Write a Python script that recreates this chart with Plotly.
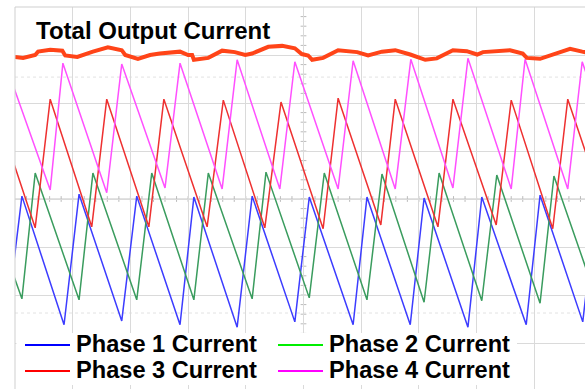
import plotly.graph_objects as go

# ------------------------------------------------------------
# Data (time and current in scope divisions)
# ------------------------------------------------------------
ph1_peak_t = [-0.88, 0.12, 1.11, 2.11, 3.10, 4.11, 5.10, 6.10, 7.09, 8.09, 9.10, 10.09]
ph1_peak_i = [4.06, 4.06, 4.10, 4.06, 4.04, 4.06, 4.04, 4.04, 4.02, 4.04, 4.08, 4.06]
ph1_valley_t = [-0.15, 0.85, 1.85, 2.86, 3.85, 4.85, 5.86, 6.85, 7.85, 8.86, 9.84]
ph1_valley_i = [1.40, 1.38, 1.46, 1.38, 1.33, 1.44, 1.38, 1.38, 1.33, 1.38, 1.44]

ph2_peak_t = [-0.65, 0.35, 1.35, 2.37, 3.35, 4.35, 5.36, 6.36, 7.35, 8.35, 9.34, 10.35]
ph2_peak_i = [4.54, 4.54, 4.54, 4.54, 4.54, 4.56, 4.54, 4.52, 4.54, 4.50, 4.48, 4.50]
ph2_valley_t = [0.12, 1.11, 2.11, 3.10, 4.11, 5.10, 6.10, 7.09, 8.09, 9.10, 10.09]
ph2_valley_i = [1.92, 1.90, 1.90, 1.90, 1.92, 1.94, 1.90, 1.85, 1.88, 1.83, 1.88]

ph3_peak_t = [-0.39, 0.61, 1.59, 2.58, 3.61, 4.61, 5.60, 6.59, 7.59, 8.60, 9.58]
ph3_peak_i = [6.08, 6.08, 6.08, 6.08, 6.06, 6.02, 6.10, 6.08, 6.08, 6.06, 6.08]
ph3_valley_t = [0.35, 1.33, 2.32, 3.33, 4.33, 5.34, 6.34, 7.33, 8.34, 9.32, 10.33]
ph3_valley_i = [3.40, 3.42, 3.42, 3.42, 3.40, 3.38, 3.46, 3.42, 3.46, 3.38, 3.40]

ph4_peak_t = [-0.17, 0.83, 1.85, 2.86, 3.85, 4.85, 5.86, 6.86, 7.85, 8.84, 9.83]
ph4_peak_i = [6.83, 6.83, 6.81, 6.83, 6.90, 6.86, 6.88, 6.91, 6.93, 6.91, 6.86]
ph4_valley_t = [0.61, 1.59, 2.60, 3.59, 4.59, 5.60, 6.59, 7.59, 8.60, 9.58, 10.59]
ph4_valley_i = [4.19, 4.13, 4.23, 4.21, 4.21, 4.21, 4.21, 4.23, 4.21, 4.21, 4.21]

total_t = [0.0, 0.14, 0.35, 0.40, 0.61, 0.82, 0.87, 1.08, 1.35, 1.61, 1.85, 1.91,
           2.13, 2.34, 2.51, 2.86, 3.00, 3.07, 3.10, 3.35, 3.59, 3.81, 3.99, 4.11,
           4.39, 4.63, 4.85, 4.97, 5.08, 5.15, 5.34, 5.60, 5.93, 6.12, 6.36, 6.59,
           6.85, 7.11, 7.31, 7.49, 7.59, 7.83, 8.01, 8.11, 8.58, 8.80, 8.87, 9.10,
           9.32, 9.62, 9.83, 9.97]
total_i = [6.96, 6.94, 7.00, 7.07, 7.11, 7.09, 6.99, 6.96, 7.07, 7.16, 7.10, 7.00,
           6.92, 7.00, 7.03, 7.07, 7.00, 7.00, 6.90, 6.94, 7.09, 7.06, 7.00, 7.03,
           7.17, 7.19, 7.14, 7.02, 6.99, 6.90, 6.94, 7.10, 7.06, 6.99, 7.07, 7.10,
           7.01, 6.90, 6.93, 7.03, 7.10, 7.08, 7.01, 7.06, 7.10, 7.03, 6.94, 6.92,
           7.01, 7.13, 7.07, 7.04]

phase_names = ["Phase 1 Current", "Phase 2 Current", "Phase 3 Current", "Phase 4 Current"]
trace_colors = ["#3c3cff", "#3a9c5e", "#ee3030", "#ff50ff"]
legend_colors = ["#0000ff", "#00ee00", "#ff0000", "#ff00ff"]
total_name = "Total Output Current"
total_color = "#ff4418"


def zigzag(pt, pi, vt, vi):
    # merge peak and valley vertices in time order
    pts = sorted(list(zip(pt, pi)) + list(zip(vt, vi)))
    return [p[0] for p in pts], [p[1] for p in pts]


phases = [
    zigzag(ph1_peak_t, ph1_peak_i, ph1_valley_t, ph1_valley_i),
    zigzag(ph2_peak_t, ph2_peak_i, ph2_valley_t, ph2_valley_i),
    zigzag(ph3_peak_t, ph3_peak_i, ph3_valley_t, ph3_valley_i),
    zigzag(ph4_peak_t, ph4_peak_i, ph4_valley_t, ph4_valley_i),
]

# ------------------------------------------------------------
# Figure
# ------------------------------------------------------------
W, H = 585, 389
L, T = 15, 7
X_MAX = (W - L) / 57.7
Y_MIN = 8 - (H - T) / 48


def px(x):
    return (x - L) / (W - L)


def py(y):
    return (H - y) / (H - T)


fig = go.Figure()

for (t, i), name, col in zip(phases, phase_names, trace_colors):
    fig.add_trace(go.Scatter(x=t, y=i, mode="lines", name=name,
                             line=dict(color=col, width=1.5), showlegend=False))

fig.add_trace(go.Scatter(x=total_t, y=total_i, mode="lines", name=total_name,
                         line=dict(color=total_color, width=4), showlegend=False))

shapes = []
# center axes with minor ticks
shapes.append(dict(type="line", xref="x", yref="y", x0=5, x1=5, y0=Y_MIN, y1=8,
                   line=dict(color="#c4c4c4", width=1), layer="below"))
shapes.append(dict(type="line", xref="x", yref="y", x0=0, x1=X_MAX, y0=4, y1=4,
                   line=dict(color="#c4c4c4", width=1), layer="below"))
for k in range(1, 40):
    yy = k * 0.2
    shapes.append(dict(type="line", xref="x", yref="y", x0=4.95, x1=5.05, y0=yy, y1=yy,
                       line=dict(color="#bbbbbb", width=1), layer="below"))
for k in range(1, 50):
    xx = k * 0.2
    shapes.append(dict(type="line", xref="x", yref="y", x0=xx, x1=xx, y0=3.94, y1=4.06,
                       line=dict(color="#bbbbbb", width=1), layer="below"))
# faint dotted rows
for yy in (6.54, 1.625):
    shapes.append(dict(type="line", xref="x", yref="y", x0=0, x1=X_MAX, y0=yy, y1=yy,
                       line=dict(color="#e2e2e2", width=1, dash="dot"), layer="below"))
# frame left / top
shapes.append(dict(type="line", xref="paper", yref="paper", x0=0, x1=0, y0=0, y1=1,
                   line=dict(color="#cfcfcf", width=1)))
shapes.append(dict(type="line", xref="paper", yref="paper", x0=0, x1=1, y0=1, y1=1,
                   line=dict(color="#cfcfcf", width=1)))
# legend box
shapes.append(dict(type="rect", xref="paper", yref="paper", x0=px(16.5), x1=px(517),
                   y0=py(385), y1=py(333), fillcolor="white", line=dict(width=0)))

annotations = [dict(xref="paper", yref="paper", x=px(34), y=py(31), xanchor="left",
                    yanchor="middle", showarrow=False, text="<b>" + total_name + "</b>",
                    font=dict(family="Liberation Sans, Arial", size=24, color="black"))]

leg_pos = [(25, 345), (278, 345), (25, 371), (278, 371)]
for (lx, ly), name, col in zip(leg_pos, phase_names, legend_colors):
    shapes.append(dict(type="line", xref="paper", yref="paper", x0=px(lx), x1=px(lx + 45),
                       y0=py(ly), y1=py(ly), line=dict(color=col, width=2)))
    annotations.append(dict(xref="paper", yref="paper", x=px(lx + 49), y=py(ly - 1),
                            xanchor="left", yanchor="middle", showarrow=False,
                            text="<b>" + name + "</b>",
                            font=dict(family="Liberation Sans, Arial", size=23.6, color="black")))

fig.update_layout(
    width=W, height=H,
    margin=dict(l=L, r=0, t=T, b=0),
    paper_bgcolor="white", plot_bgcolor="white",
    shapes=shapes, annotations=annotations,
    xaxis=dict(range=[0, X_MAX], dtick=1, tick0=0, showgrid=True, gridcolor="#dadada",
               gridwidth=1, zeroline=False, showticklabels=False, ticks=""),
    yaxis=dict(range=[Y_MIN, 8], dtick=1, tick0=0, showgrid=True, gridcolor="#dadada",
               gridwidth=1, zeroline=False, showticklabels=False, ticks=""),
)

# drop the default page margin so the figure sits at the window's corner
fig.write_html("out.html", config={"displayModeBar": False},
               post_script="document.body.style.margin='0';document.body.style.overflow='hidden';")
